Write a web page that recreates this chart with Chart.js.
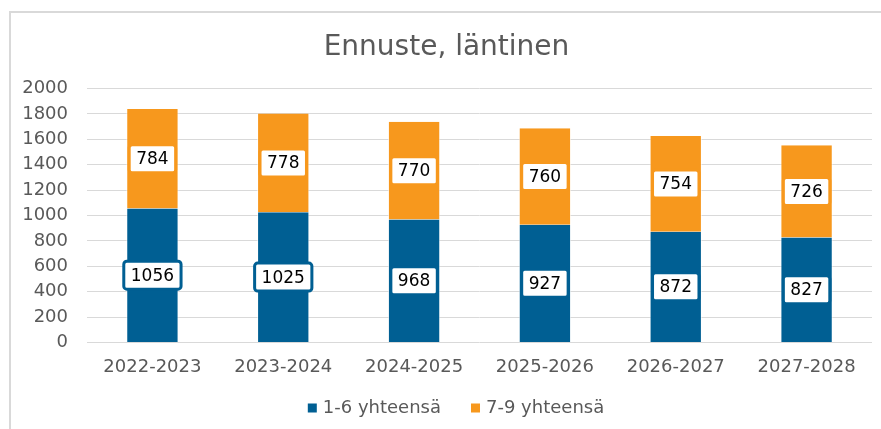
<!DOCTYPE html>
<html>
<head>
<meta charset="utf-8">
<script src="https://cdn.jsdelivr.net/npm/chart.js@4/dist/chart.umd.min.js"></script>
<style>
  html, body { margin: 0; padding: 0; background: #fff; }
  #wrap { position: relative; width: 881px; height: 429px; overflow: hidden; }
  #frame { position: absolute; left: 9px; top: 11px; width: 1000px; height: 1000px; border: 2px solid #d9d9d9; }
  canvas { position: absolute; left: 0; top: 0; }
</style>
</head>
<body>
<div id="wrap">
  <div id="frame"></div>
  <canvas id="chart" width="881" height="429"></canvas>
</div>
<script>
// Lukuvuodet ja ennusteen sarjat
const categories = ['2022-2023', '2023-2024', '2024-2025', '2025-2026', '2026-2027', '2027-2028'];
const grades16 = [1056, 1025, 968, 927, 872, 827];
const grades79 = [784, 778, 770, 760, 754, 726];
const yTicks = [0, 200, 400, 600, 800, 1000, 1200, 1400, 1600, 1800, 2000];

const BLUE = '#005f93';
const ORANGE = '#f7981d';
const TEXT = '#595959';
const GRID = '#d9d9d9';
const FONT = "'DejaVu Sans', Verdana, sans-serif";

// Arvolaatikot palkkien keskelle (ei datalabels-pluginia saatavilla)
const valueBoxes = {
    id: 'valueBoxes',
    afterDatasetsDraw(chart) {
        const ctx = chart.ctx;
        ctx.save();
        ctx.font = '17px ' + FONT;
        ctx.textAlign = 'center';
        ctx.textBaseline = 'middle';
        chart.data.datasets.forEach((ds, i) => {
            const meta = chart.getDatasetMeta(i);
            meta.data.forEach((bar, j) => {
                const txt = String(ds.data[j]);
                const cx = bar.x;
                const cy = (bar.y + bar.base) / 2;
                const w = ctx.measureText(txt).width + 14;
                const h = 28;
                ctx.beginPath();
                ctx.roundRect(cx - w / 2, cy - h / 2, w, h, 3);
                ctx.fillStyle = '#ffffff';
                ctx.fill();
                ctx.lineWidth = 3;
                ctx.strokeStyle = ds.backgroundColor;
                ctx.stroke();
                ctx.fillStyle = '#000000';
                ctx.fillText(txt, cx, cy + 1);
            });
        });
        ctx.restore();
    }
};

// Selite alareunaan, Excel-tyyliin (leveämpi väli sarjojen välillä)
const bottomLegend = {
    id: 'bottomLegend',
    afterDraw(chart) {
        const ctx = chart.ctx;
        const box = 9, gap = 6, between = 30, cy = 408, center = 456;
        ctx.save();
        ctx.font = '18px ' + FONT;
        ctx.textBaseline = 'middle';
        const items = chart.data.datasets.map(ds => ({ text: ds.label, color: ds.backgroundColor, w: ctx.measureText(ds.label).width }));
        const total = items.reduce((s, it) => s + box + gap + it.w, 0) + between * (items.length - 1);
        let x = center - total / 2;
        items.forEach(it => {
            ctx.fillStyle = it.color;
            ctx.fillRect(x, cy - box / 2, box, box);
            ctx.fillStyle = TEXT;
            ctx.fillText(it.text, x + box + gap, cy);
            x += box + gap + it.w + between;
        });
        ctx.restore();
    }
};

new Chart(document.getElementById('chart').getContext('2d'), {
    type: 'bar',
    plugins: [valueBoxes, bottomLegend],
    data: {
        labels: categories,
        datasets: [
            {
                label: '1-6 yhteensä',
                data: grades16,
                backgroundColor: BLUE,
                borderColor: 'rgba(255,255,255,0.6)',
                borderWidth: { left: 1, right: 1, top: 0, bottom: 0 },
                borderSkipped: false,
                categoryPercentage: 1,
                barPercentage: 0.4
            },
            {
                label: '7-9 yhteensä',
                data: grades79,
                backgroundColor: ORANGE,
                borderColor: 'rgba(255,255,255,0.6)',
                borderWidth: { left: 1, right: 1, top: 0, bottom: 0 },
                borderSkipped: false,
                categoryPercentage: 1,
                barPercentage: 0.4
            }
        ]
    },
    options: {
        responsive: false,
        animation: false,
        layout: { padding: { left: 21, right: 9, top: 12, bottom: 37 } },
        plugins: {
            tooltip: { enabled: false },
            legend: { display: false },
            title: {
                display: true,
                text: 'Ennuste, läntinen',
                color: TEXT,
                font: { family: FONT, size: 28, weight: 'normal' },
                padding: { top: 19, bottom: 24 }
            }
        },
        scales: {
            x: {
                stacked: true,
                grid: { display: false, drawTicks: false },
                border: { display: false },
                ticks: { color: TEXT, font: { family: FONT, size: 18 }, padding: 14, maxRotation: 0 }
            },
            y: {
                stacked: true,
                min: 0,
                max: 2000,
                afterBuildTicks: (scale) => { scale.ticks = yTicks.map(v => ({ value: v })); },
                afterFit: (scale) => { scale.width = 66; },
                grid: { color: GRID, lineWidth: 1, drawTicks: false },
                border: { display: false },
                ticks: { color: TEXT, font: { family: FONT, size: 18 }, padding: 19, autoSkip: false, callback: (v) => String(v) }
            }
        }
    }
});
</script>
</body>
</html>
